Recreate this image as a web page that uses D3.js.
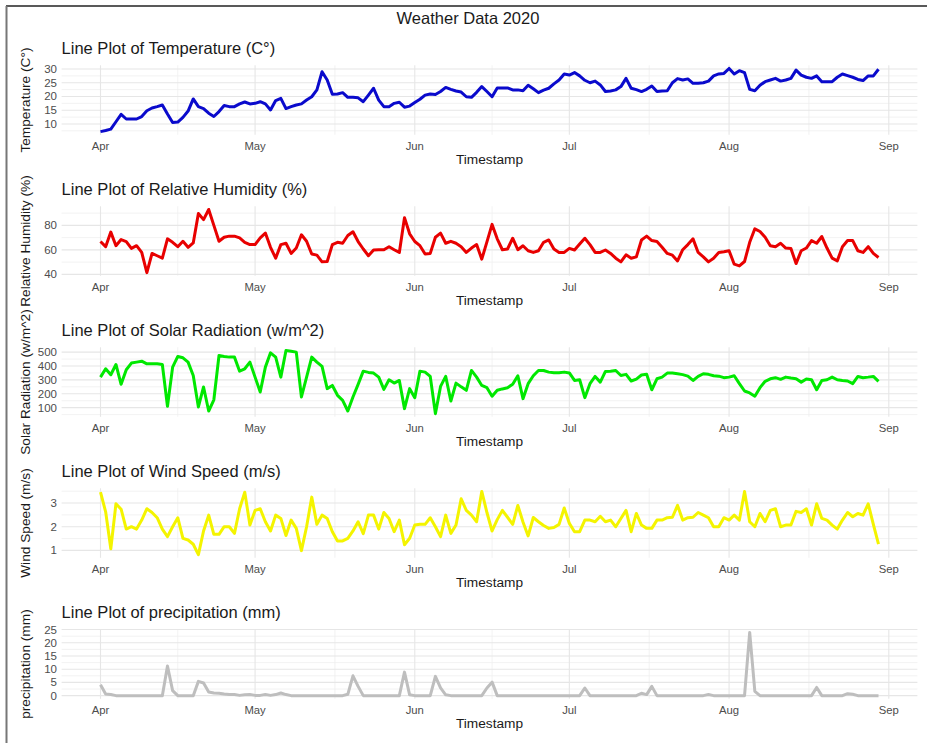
<!DOCTYPE html>
<html><head><meta charset="utf-8">
<script src="https://cdn.jsdelivr.net/npm/d3@7"></script>
<style>body{margin:0;background:#fff;} svg{display:block;font-family:"Liberation Sans",Arial,sans-serif;}</style>
</head><body><svg id="c" width="927" height="743"></svg>
<script>
const startDate = "2020-04-01";
const monthTicks = ["2020-04-01","2020-05-01","2020-06-01","2020-07-01","2020-08-01","2020-09-01"];
const monthLabels = ["Apr","May","Jun","Jul","Aug","Sep"];

const temperature = [7.2,7.6,8.1,10.8,13.5,11.8,11.8,11.8,12.7,14.8,
15.8,16.3,16.9,13.6,10.5,10.7,12.4,14.7,19.1,16.3,
15.6,13.9,12.7,14.5,16.7,16.3,16.3,17.3,18.0,17.3,
17.5,18.1,17.3,15.1,18.5,19.3,15.6,16.3,16.9,17.3,
18.7,19.9,22.4,29.0,26.0,20.8,20.9,21.4,19.7,19.7,
19.5,18.1,20.5,23.0,18.7,16.3,16.3,17.5,17.9,16.1,
16.5,17.8,19.0,20.5,20.9,20.7,21.8,23.3,22.6,22.0,
21.6,19.9,19.7,21.5,23.6,21.8,19.9,23.1,23.1,23.1,
22.4,22.4,22.1,24.1,22.8,21.4,22.3,23.0,24.6,26.0,
28.2,27.8,28.7,27.5,25.9,25.0,25.6,24.2,21.8,22.0,
22.4,23.6,26.6,23.0,22.5,21.8,22.6,23.8,21.8,22.0,
22.1,25.0,26.5,26.0,26.4,24.8,24.8,25.0,25.6,27.5,
28.2,28.4,30.2,28.2,29.4,28.7,22.6,22.1,24.1,25.4,
26.0,26.6,25.6,26.0,26.6,29.6,27.8,27.0,26.6,27.5,
25.4,25.4,25.4,27.0,28.2,27.6,27.0,26.2,25.8,27.5,
27.5,29.9];

const humidity = [66.8,62.6,74.5,63.4,68.4,66.8,61.2,63.4,57.9,41.4,
57.1,55.2,53.2,69.0,66.2,62.6,67.0,62.1,65.7,89.7,
84.7,93.0,80.0,67.0,70.3,71.2,71.2,69.8,66.2,64.3,
64.3,69.8,73.7,62.1,53.2,64.3,65.4,57.1,61.5,72.3,
67.0,56.6,55.7,50.2,50.5,64.3,66.2,65.4,71.7,74.8,
66.8,60.7,55.2,59.9,60.1,60.1,62.6,60.1,57.9,86.3,
73.1,66.8,63.4,56.6,57.1,70.3,73.7,65.4,67.0,65.4,
62.6,57.9,61.5,64.3,52.4,66.5,80.8,69.0,60.1,60.7,
69.5,60.1,63.4,59.3,57.9,59.3,66.2,68.1,60.7,57.9,
57.9,61.2,59.9,64.8,69.5,64.3,57.9,57.9,59.9,57.1,
53.2,50.2,56.0,53.2,54.3,68.1,71.2,67.6,66.8,62.1,
57.1,55.7,51.0,60.1,64.3,69.0,57.9,54.3,50.2,53.2,
57.9,58.5,59.3,48.3,46.9,50.5,66.2,77.2,75.0,70.3,
63.4,62.6,65.4,61.5,61.2,48.8,59.3,61.5,67.6,65.4,
70.9,61.5,53.2,51.0,62.6,67.6,67.6,59.3,57.9,62.6,
57.1,53.8];

const solar = [320,380,337,411,268,373,421,428,435,416,
416,416,411,110,392,469,459,428,332,105,
249,76,157,476,469,464,464,363,380,428,
320,213,392,495,464,320,512,507,500,177,
320,464,428,397,237,260,189,153,76,177,
268,363,354,349,320,232,301,277,296,93,
237,172,363,356,325,57,253,325,148,277,
250,225,368,320,260,244,182,225,235,244,
268,330,165,273,330,368,368,356,352,351,
356,350,296,301,172,273,325,284,361,363,
368,332,340,292,306,335,340,229,308,320,
349,349,344,338,327,296,325,344,340,330,
327,316,320,330,273,220,206,182,244,290,
308,316,304,320,313,308,284,306,301,229,
295,301,320,301,296,292,273,325,316,320,
325,289];

const windSpeed = [3.46,2.63,1.07,2.97,2.74,1.90,2.0,1.90,2.28,2.76,
2.60,2.38,1.90,1.58,2.0,2.38,1.51,1.44,1.26,0.82,
1.82,2.49,1.68,1.68,2.0,2.0,1.72,2.76,3.46,2.07,
2.69,2.76,2.21,1.82,2.49,2.35,1.63,2.28,1.93,0.99,
2.0,3.25,2.10,2.49,2.35,1.79,1.40,1.40,1.51,1.82,
2.21,1.71,2.49,2.49,1.90,2.60,2.35,1.79,2.28,1.24,
1.51,2.07,2.10,2.10,2.38,2.0,1.58,2.49,1.72,2.07,
3.18,2.69,2.49,2.21,3.49,2.6,1.82,2.3,2.69,2.4,
2.10,2.90,2.2,1.61,2.39,2.21,2.05,1.93,1.97,2.10,
2.79,2.14,1.79,1.79,2.28,2.28,2.21,2.44,2.21,2.28,
2.0,2.35,2.69,1.79,2.56,2.07,1.93,1.93,2.28,2.28,
2.38,2.40,2.90,2.28,2.38,2.40,2.60,2.49,2.38,2.0,
2.0,2.38,2.28,2.49,2.28,3.49,2.21,2.0,2.56,2.21,
2.69,2.76,2.0,2.07,2.07,2.65,2.60,2.76,2.07,2.97,
2.35,2.28,2.07,1.90,2.28,2.60,2.42,2.56,2.49,2.97,
2.1,1.26];

const precipitation = [4.1,0.6,0.4,0,0,0,0,0,0,0,
0,0,0,11.2,1.9,0,0,0,0,5.4,
4.8,1.4,1.0,0.9,0.6,0.4,0.4,0.1,0.3,0.4,
0.1,0.1,0.4,0.1,0.4,1.0,0.4,0,0,0,
0,0,0,0,0,0,0,0,0.5,7.5,
3.5,0,0,0,0,0,0,0,0,8.9,
0.3,0,0,0,0,7.3,2.9,0.3,0,0,
0,0,0,0,0,2.9,5.1,0,0,0,
0,0,0,0,0,0,0,0,0,0,
0,0,0,0,2.9,0,0,0,0,0,
0,0,0,0,0,0.9,0.4,3.5,0,0,
0,0,0,0,0,0,0,0,0.4,0,
0,0,0,0,0,0,23.9,1.6,0,0,
0,0,0,0,0,0,0,0,0,3.1,
0,0,0,0,0,0.75,0.5,0,0,0,
0,0];

const panelTitles = ["Line Plot of Temperature (C°)","Line Plot of Relative Humidity (%)","Line Plot of Solar Radiation (w/m^2)","Line Plot of Wind Speed (m/s)","Line Plot of precipitation (mm)"];
const yTitles = ["Temperature (C°)","Relative Humidity (%)","Solar Radiation (w/m^2)","Wind Speed (m/s)","precipitation (mm)"];
const seriesColors = ["#0A0ACC","#E80000","#00E800","#F4F400","#BEBEBE"];
const yTicks = [[10,15,20,25,30],[40,60,80],[100,200,300,400,500],[1,2,3],[0,5,10,15,20,25]];
const seriesValues = [temperature, humidity, solar, windSpeed, precipitation];

const svg = d3.select("#c");
svg.append("rect").attr("width",927).attr("height",743).attr("fill","#fff");

const start = new Date(startDate + "T00:00:00Z");
const n = temperature.length;
const dates = d3.range(n).map(i => d3.utcDay.offset(start, i));
const t0 = +dates[0], t1 = +dates[n-1], span = t1 - t0;
const x = d3.scaleUtc().domain([new Date(t0 - 0.05*span), new Date(t1 + 0.05*span)]).range([61.6, 917.4]);
const majorX = monthTicks.map(s => new Date(s + "T00:00:00Z"));
const minorX = [];
for (let i = 0; i < majorX.length-1; i++) minorX.push(new Date((+majorX[i] + +majorX[i+1])/2));
const xd = x.domain();
const inX = d => d >= xd[0] && d <= xd[1];

const panelTop0 = 65.3, panelStep = 141, panelH = 69.5;
const left = 61.6, right = 917.4;

svg.append("text").attr("x",468).attr("y",18).attr("text-anchor","middle").attr("dominant-baseline","central")
  .attr("font-size",16.5).attr("fill","#1a1a1a").text("Weather Data 2020");

seriesValues.forEach((vals, p) => {
  const top = panelTop0 + p*panelStep, bottom = top + panelH;
  const ext = d3.extent(vals), r = ext[1]-ext[0];
  const y = d3.scaleLinear().domain([ext[0]-0.05*r, ext[1]+0.05*r]).range([bottom, top]);
  const yd = y.domain();
  const ticks = yTicks[p];
  const step = ticks[1]-ticks[0];
  const minorY = [];
  for (let v = ticks[0]-step/2; v <= ticks[ticks.length-1]+step/2 + 1e-9; v += step) minorY.push(v);
  const g = svg.append("g");
  // minor grid
  g.selectAll(".myg").data(minorY.filter(v => v>=yd[0] && v<=yd[1])).enter().append("line")
    .attr("x1",left).attr("x2",right).attr("y1",d=>y(d)).attr("y2",d=>y(d))
    .attr("stroke","#EFEFEF").attr("stroke-width",0.8);
  g.selectAll(".mxg").data(minorX.filter(inX)).enter().append("line")
    .attr("y1",top).attr("y2",bottom).attr("x1",d=>x(d)).attr("x2",d=>x(d))
    .attr("stroke","#EFEFEF").attr("stroke-width",0.8);
  // major grid
  g.selectAll(".Myg").data(ticks).enter().append("line")
    .attr("x1",left).attr("x2",right).attr("y1",d=>y(d)).attr("y2",d=>y(d))
    .attr("stroke","#E6E6E6").attr("stroke-width",1.1);
  g.selectAll(".Mxg").data(majorX.filter(inX)).enter().append("line")
    .attr("y1",top).attr("y2",bottom).attr("x1",d=>x(d)).attr("x2",d=>x(d))
    .attr("stroke","#E6E6E6").attr("stroke-width",1.1);
  // line
  const line = d3.line().x((d,i)=>x(dates[i])).y(d=>y(d));
  g.append("path").datum(vals).attr("d",line).attr("fill","none")
    .attr("stroke",seriesColors[p]).attr("stroke-width",3).attr("stroke-linejoin","round").attr("stroke-linecap","butt");
  // y tick labels
  g.selectAll(".yl").data(ticks).enter().append("text")
    .attr("x",57).attr("y",d=>y(d)).attr("text-anchor","end").attr("dominant-baseline","central")
    .attr("font-size",11.5).attr("fill","#4D4D4D").text(d=>d);
  // x tick labels
  g.selectAll(".xl").data(majorX).enter().append("text")
    .attr("x",d=>x(d)).attr("y",bottom+11).attr("text-anchor","middle").attr("dominant-baseline","central")
    .attr("font-size",11.3).attr("fill","#4D4D4D").text((d,i)=>monthLabels[i]);
  // x title
  g.append("text").attr("x",(left+right)/2).attr("y",bottom+25).attr("text-anchor","middle").attr("dominant-baseline","central")
    .attr("font-size",13.7).attr("fill","#1a1a1a").text("Timestamp");
  // panel title
  g.append("text").attr("x",left).attr("y",top-17).attr("dominant-baseline","central")
    .attr("font-size",16.5).attr("fill","#1a1a1a").text(panelTitles[p]);
  // y title
  g.append("text").attr("transform",`translate(25,${(top+bottom)/2}) rotate(-90)`).attr("text-anchor","middle")
    .attr("dominant-baseline","central").attr("font-size",13.7).attr("fill","#1a1a1a").text(yTitles[p]);
});

// screenshot frame
svg.append("line").attr("x1",6).attr("x2",927).attr("y1",6).attr("y2",6).attr("stroke","#222").attr("stroke-width",1.3);
svg.append("line").attr("x1",6.5).attr("x2",6.5).attr("y1",6).attr("y2",743).attr("stroke","#777").attr("stroke-width",2);
</script></body></html>
